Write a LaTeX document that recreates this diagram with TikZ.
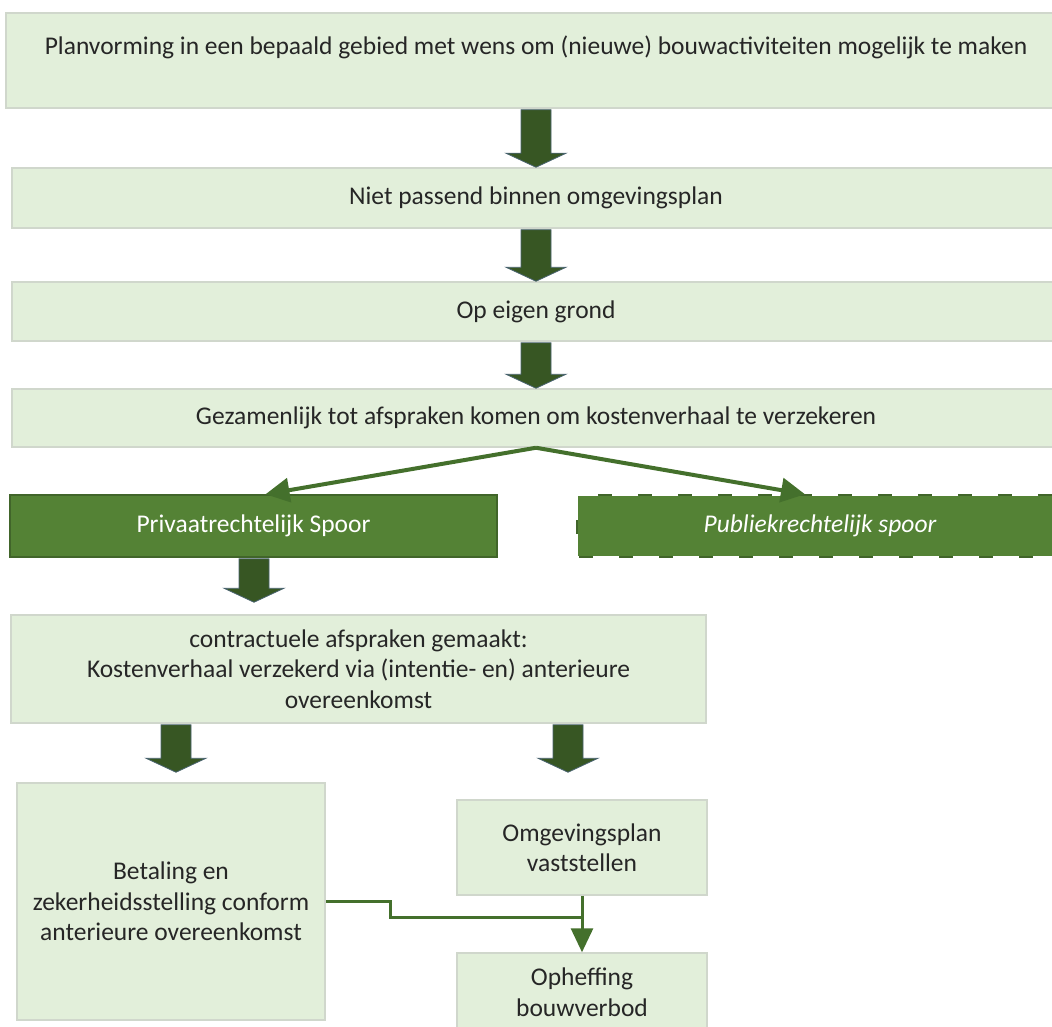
\documentclass[tikz,border=0pt]{standalone}
\usepackage{fontspec}
\setmainfont{Carlito}
\usetikzlibrary{calc,arrows.meta}
\definecolor{lightg}{HTML}{E2EFDA}
\definecolor{lightb}{HTML}{D0D7CC}
\definecolor{darkg}{HTML}{548235}
\definecolor{darkb}{HTML}{41652A}
\definecolor{arrowg}{HTML}{375623}
\definecolor{arrowb}{HTML}{4A6470}
\definecolor{lineg}{HTML}{44702C}
\definecolor{txt}{HTML}{262626}
\newcommand\basefont{\fontsize{25.5}{30.5}\selectfont}
\tikzset{
  lbox/.style={draw=lightb, line width=1.5pt, fill=lightg, inner sep=0pt, align=center, text=txt},
  dbox/.style={draw=darkb, line width=1.5pt, fill=darkg, inner sep=0pt, align=center, text=white},
  blockarrow/.style={fill=arrowg, draw=arrowb, line width=0.8pt, line join=miter},
  branch/.style={draw=lineg, line width=4pt, -{Triangle[length=24pt,width=24pt]}},
  conn/.style={draw=lineg, line width=3pt},
}
\newcommand\blockarr[4]{%
  \path[blockarrow] let \p1=(#1,0), \p2=(#2.south), \p3=(#3.north) in
    (\x1-15pt,\y2-1pt) -- (\x1+15pt,\y2-1pt) -- (\x1+15pt,\y3+#4pt+14pt)
    -- (\x1+30pt,\y3+#4pt+14pt) -- (\x1,\y3+#4pt) -- (\x1-30pt,\y3+#4pt+14pt)
    -- (\x1-15pt,\y3+#4pt+14pt) -- cycle;}
\begin{document}
\begin{tikzpicture}[x=1pt,y=-1pt,font=\basefont]
\useasboundingbox (0,0) rectangle (1052,1027);
\fill[white] (0,0) rectangle (1052,1027);
\clip (0,0) rectangle (1052,1027);

\node[lbox, minimum width=1060pt, minimum height=95pt] (b1) at (536,60.5)
  {Planvorming in een bepaald gebied met wens om (nieuwe) bouwactiviteiten mogelijk te maken\\ \mbox{}};
\node[lbox, minimum width=1048pt, minimum height=60pt] (b2) at (536,198)
  {Niet passend binnen omgevingsplan};
\node[lbox, minimum width=1048pt, minimum height=59pt] (b3) at (536,311.5)
  {Op eigen grond};
\node[lbox, minimum width=1048pt, minimum height=58pt] (b4) at (536,418)
  {Gezamenlijk tot afspraken komen om kostenverhaal te verzekeren};

\node[dbox, minimum width=487pt, minimum height=62pt] (priv) at (253.5,526)
  {Privaatrechtelijk Spoor};
\node[dbox, font={\basefont\itshape}, minimum width=486pt, minimum height=62pt] (publ) at (820,526)
  {Publiekrechtelijk spoor};
\draw[white, line width=3pt, dash pattern=on 26pt off 14pt]
  (publ.north west) rectangle (publ.south east);

\node[lbox, minimum width=695pt, minimum height=108pt] (contract) at (358.5,669)
  {contractuele afspraken gemaakt:\\Kostenverhaal verzekerd via (intentie- en) anterieure\\overeenkomst};
\node[lbox, minimum width=308pt, minimum height=237pt] (betal) at (171,901.5)
  {Betaling en\\zekerheidsstelling conform\\anterieure overeenkomst};
\node[lbox, minimum width=250pt, minimum height=95pt] (omg) at (582,847.5)
  {Omgevingsplan\\vaststellen};
\node[lbox, minimum width=250pt, minimum height=78pt] (oph) at (582,992)
  {Opheffing\\bouwverbod};

\blockarr{536}{b1}{b2}{0}
\blockarr{536}{b2}{b3}{0}
\blockarr{536}{b3}{b4}{0}
\blockarr{254}{priv}{contract}{12}
\blockarr{176}{contract}{betal}{10}
\blockarr{568}{contract}{omg}{27}

\draw[branch] (b4.south) -- ($(priv.north)+(12,0)$);
\draw[branch] (b4.south) -- ($(publ.north)+(-15,0)$);

\coordinate (j) at ($(omg.south)+(0,22)$);
\draw[conn] (betal.east) -- ++(65,0) |- (j);
\draw[conn, -{Triangle[length=24pt,width=22pt]}] (omg.south) -- (oph.north);
\end{tikzpicture}
\end{document}
